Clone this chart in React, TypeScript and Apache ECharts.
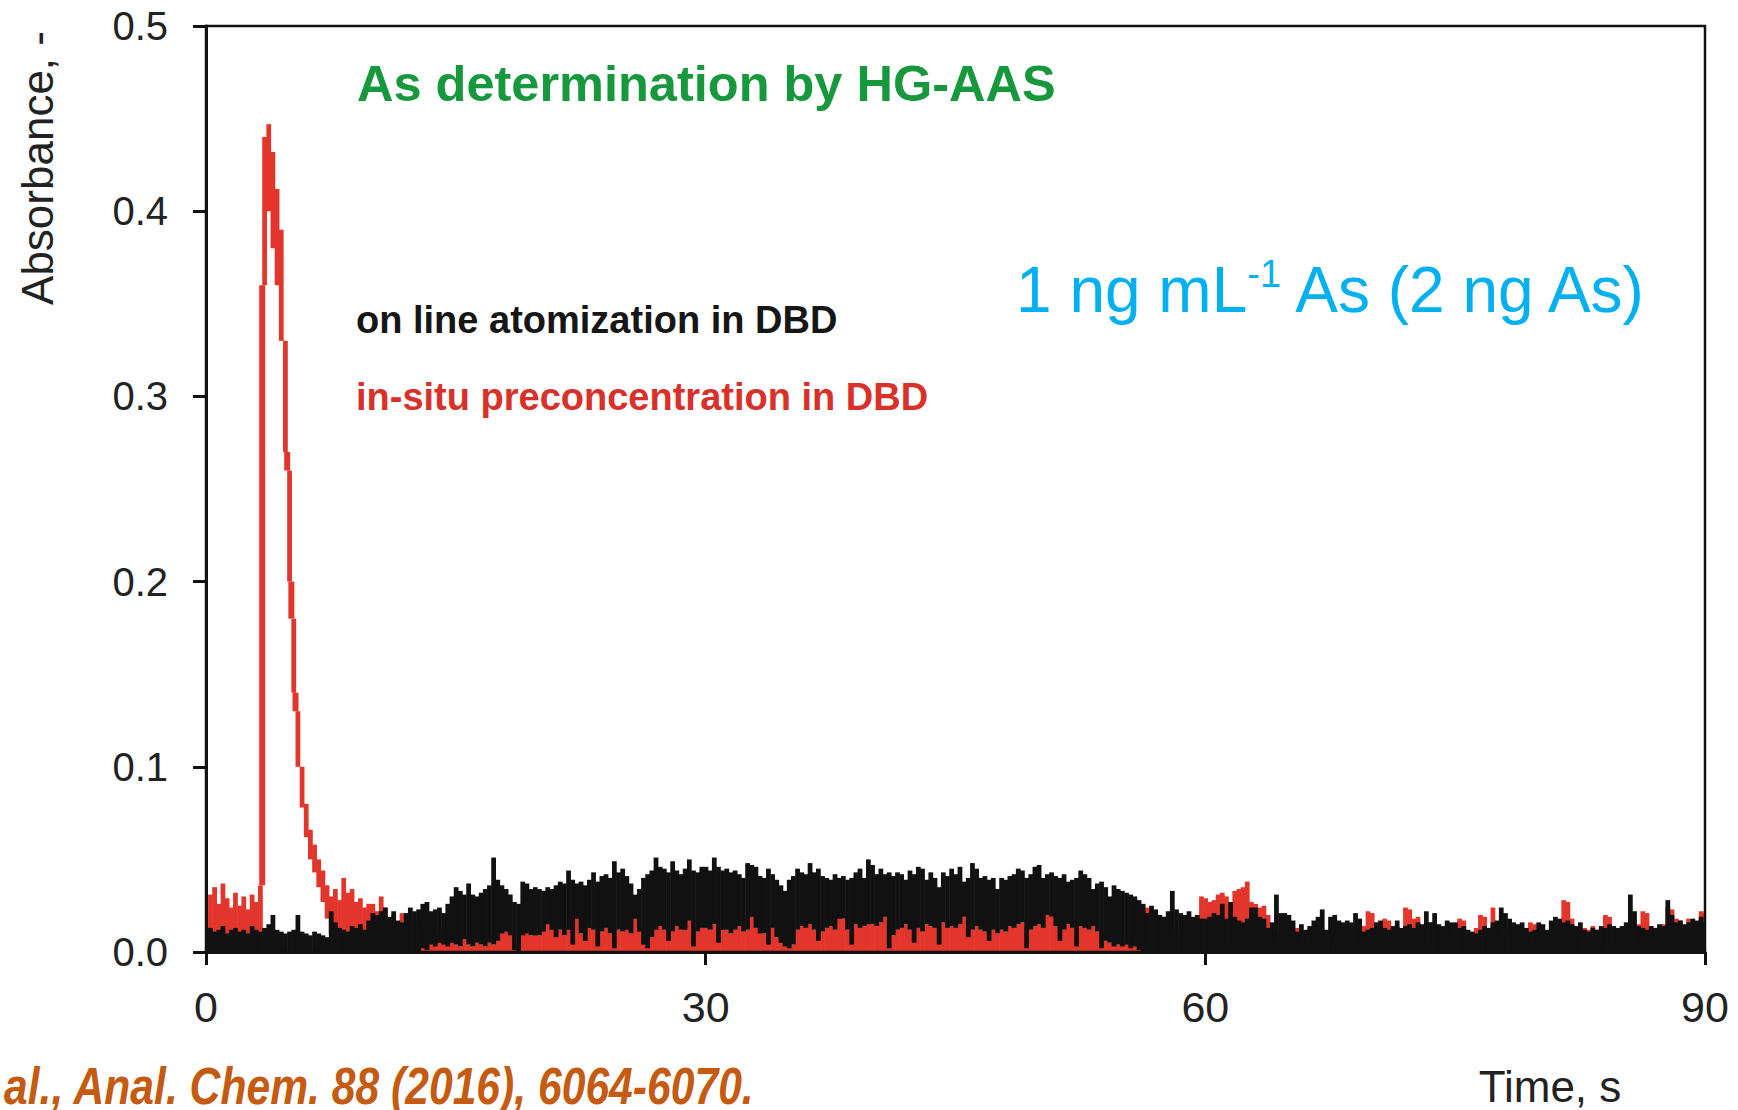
import React, { useEffect, useRef } from 'react';
import * as echarts from 'echarts';

// Sampling step of the time axis (s)
const STEP = 0.25;
const xTicks = [0, 30, 60, 90];
const yTicks = [0, 0.1, 0.2, 0.3, 0.4, 0.5];

const titleText = 'As determination by HG-AAS';
const blackLabel = 'on line atomization in DBD';
const redLabel = 'in-situ preconcentration in DBD';
const concParts = ['1 ng mL', '-1', ' As (2 ng As)'];
const yTitle = 'Absorbance, -';
const xTitle = 'Time, s';
const citation = 'al., Anal. Chem. 88 (2016), 6064-6070.';

// in-situ preconcentration (red): upper and lower edge of the noisy trace, every 0.25 s
const redHigh = [
  0.022, 0.031, 0.035, 0.026, 0.037, 0.029, 0.024, 0.032, 0.025, 0.030, 0.023, 0.031, 0.027, 0.036, 0.440, 0.447, 0.432, 0.412, 0.390, 0.330,
  0.260, 0.180, 0.130, 0.100, 0.080, 0.066, 0.058, 0.050, 0.044, 0.036, 0.030, 0.034, 0.028, 0.040, 0.032, 0.034, 0.027, 0.029, 0.024, 0.026,
  0.026, 0.022, 0.030, 0.024, 0.018, 0.020, 0.016, 0.021, 0.014, 0.018, 0.012, 0.016, 0.012, 0.010, 0.013, 0.009, 0.011, 0.008, 0.010, 0.007,
  0.004, 0.003, 0.008, 0.004, 0.003, 0.005, 0.004, 0.003, 0.005, 0.004, 0.006, 0.011, 0.012, 0.010, 0.004, 0.003, 0.010, 0.011, 0.009, 0.010,
  0.009, 0.012, 0.016, 0.013, 0.010, 0.012, 0.009, 0.013, 0.011, 0.019, 0.010, 0.008, 0.014, 0.012, 0.009, 0.011, 0.013, 0.010, 0.008, 0.012,
  0.011, 0.013, 0.010, 0.019, 0.012, 0.009, 0.005, 0.008, 0.013, 0.014, 0.012, 0.013, 0.011, 0.014, 0.012, 0.013, 0.018, 0.012, 0.011, 0.013,
  0.013, 0.012, 0.015, 0.011, 0.013, 0.012, 0.010, 0.012, 0.014, 0.011, 0.012, 0.020, 0.013, 0.012, 0.010, 0.011, 0.013, 0.008, 0.006, 0.010,
  0.005, 0.004, 0.012, 0.014, 0.013, 0.015, 0.012, 0.013, 0.011, 0.013, 0.014, 0.012, 0.019, 0.018, 0.012, 0.011, 0.015, 0.013, 0.014, 0.016,
  0.015, 0.014, 0.016, 0.019, 0.013, 0.009, 0.012, 0.013, 0.015, 0.012, 0.014, 0.013, 0.011, 0.015, 0.014, 0.013, 0.012, 0.016, 0.013, 0.014,
  0.013, 0.015, 0.019, 0.013, 0.012, 0.014, 0.012, 0.011, 0.013, 0.012, 0.010, 0.012, 0.011, 0.014, 0.013, 0.015, 0.016, 0.013, 0.012, 0.014,
  0.015, 0.013, 0.020, 0.019, 0.014, 0.013, 0.012, 0.015, 0.013, 0.012, 0.014, 0.013, 0.012, 0.014, 0.011, 0.007, 0.006, 0.005, 0.006, 0.004,
  0.005, 0.006, 0.004, 0.005, 0.006, 0.015, 0.024, 0.022, 0.012, 0.010, 0.019, 0.018, 0.013, 0.012, 0.011, 0.010, 0.015, 0.013, 0.020, 0.030,
  0.029, 0.027, 0.028, 0.031, 0.032, 0.030, 0.027, 0.033, 0.034, 0.035, 0.038, 0.027, 0.026, 0.024, 0.025, 0.020, 0.012, 0.010, 0.011, 0.009,
  0.011, 0.012, 0.013, 0.011, 0.010, 0.012, 0.011, 0.010, 0.012, 0.011, 0.013, 0.010, 0.011, 0.009, 0.012, 0.011, 0.013, 0.012, 0.014, 0.022,
  0.021, 0.014, 0.013, 0.018, 0.017, 0.013, 0.014, 0.012, 0.024, 0.023, 0.018, 0.019, 0.013, 0.014, 0.016, 0.012, 0.013, 0.011, 0.012, 0.014,
  0.012, 0.018, 0.017, 0.011, 0.010, 0.013, 0.020, 0.019, 0.013, 0.024, 0.013, 0.014, 0.011, 0.012, 0.010, 0.012, 0.013, 0.011, 0.016, 0.015,
  0.012, 0.010, 0.011, 0.013, 0.012, 0.014, 0.028, 0.027, 0.018, 0.012, 0.011, 0.013, 0.012, 0.014, 0.012, 0.013, 0.020, 0.019, 0.012, 0.011,
  0.013, 0.012, 0.017, 0.013, 0.015, 0.022, 0.021, 0.014, 0.013, 0.012, 0.015, 0.024, 0.023, 0.018, 0.017, 0.014, 0.018, 0.015, 0.013, 0.022,
  0.021,
];
const redLow = [
  0, 0, 0, 0, 0, 0, 0, 0, 0, 0, 0, 0, 0, 0, 0.360, 0.400, 0.380, 0.360, 0.330, 0.270,
  0.200, 0.140, 0.100, 0.078, 0.062, 0.050, 0.043, 0.035, 0.027, 0.018, 0.010, 0.004, 0, 0, 0, 0, 0, 0, 0, 0,
  0, 0, 0, 0, 0, 0, 0, 0, 0, 0, 0, 0, 0, 0, 0, 0, 0, 0, 0, 0,
  0, 0, 0, 0, 0, 0, 0, 0, 0, 0, 0, 0, 0, 0, 0, 0, 0, 0, 0, 0,
  0, 0, 0, 0, 0, 0, 0, 0, 0, 0, 0, 0, 0, 0, 0, 0, 0, 0, 0, 0,
  0, 0, 0, 0, 0, 0, 0, 0, 0, 0, 0, 0, 0, 0, 0, 0, 0, 0, 0, 0,
  0, 0, 0, 0, 0, 0, 0, 0, 0, 0, 0, 0, 0, 0, 0, 0, 0, 0, 0, 0,
  0, 0, 0, 0, 0, 0, 0, 0, 0, 0, 0, 0, 0, 0, 0, 0, 0, 0, 0, 0,
  0, 0, 0, 0, 0, 0, 0, 0, 0, 0, 0, 0, 0, 0, 0, 0, 0, 0, 0, 0,
  0, 0, 0, 0, 0, 0, 0, 0, 0, 0, 0, 0, 0, 0, 0, 0, 0, 0, 0, 0,
  0, 0, 0, 0, 0, 0, 0, 0, 0, 0, 0, 0, 0, 0, 0, 0, 0, 0, 0, 0,
  0, 0, 0, 0, 0, 0, 0, 0, 0, 0, 0, 0, 0, 0, 0, 0, 0, 0, 0, 0,
  0, 0, 0, 0, 0, 0, 0, 0, 0, 0, 0, 0, 0, 0, 0, 0, 0, 0, 0, 0,
  0, 0, 0, 0, 0, 0, 0, 0, 0, 0, 0, 0, 0, 0, 0, 0, 0, 0, 0, 0,
  0, 0, 0, 0, 0, 0, 0, 0, 0, 0, 0, 0, 0, 0, 0, 0, 0, 0, 0, 0,
  0, 0, 0, 0, 0, 0, 0, 0, 0, 0, 0, 0, 0, 0, 0, 0, 0, 0, 0, 0,
  0, 0, 0, 0, 0, 0, 0, 0, 0, 0, 0, 0, 0, 0, 0, 0, 0, 0, 0, 0,
  0, 0, 0, 0, 0, 0, 0, 0, 0, 0, 0, 0, 0, 0, 0, 0, 0, 0, 0, 0,
  0,
];

// on line atomization (black): upper and lower edge of the noisy trace, every 0.25 s
const blackHigh = [
  0.010, 0.013, 0.011, 0.012, 0.014, 0.010, 0.012, 0.013, 0.011, 0.012, 0.010, 0.014, 0.012, 0.011, 0.013, 0.015, 0.020, 0.012, 0.011, 0.010,
  0.011, 0.012, 0.020, 0.011, 0.010, 0.009, 0.011, 0.010, 0.009, 0.008, 0.022, 0.016, 0.013, 0.012, 0.011, 0.014, 0.013, 0.015, 0.012, 0.017,
  0.021, 0.020, 0.022, 0.024, 0.019, 0.022, 0.017, 0.016, 0.021, 0.024, 0.022, 0.023, 0.026, 0.027, 0.022, 0.023, 0.024, 0.021, 0.026, 0.030,
  0.035, 0.033, 0.031, 0.037, 0.031, 0.030, 0.032, 0.034, 0.036, 0.051, 0.039, 0.036, 0.034, 0.031, 0.027, 0.026, 0.038, 0.037, 0.034, 0.035,
  0.034, 0.033, 0.035, 0.034, 0.036, 0.038, 0.037, 0.044, 0.039, 0.037, 0.038, 0.036, 0.039, 0.043, 0.038, 0.041, 0.042, 0.040, 0.049, 0.043,
  0.045, 0.041, 0.037, 0.031, 0.034, 0.040, 0.042, 0.044, 0.051, 0.046, 0.045, 0.043, 0.049, 0.044, 0.042, 0.045, 0.050, 0.044, 0.043, 0.046,
  0.046, 0.044, 0.051, 0.046, 0.044, 0.045, 0.043, 0.044, 0.042, 0.040, 0.048, 0.047, 0.046, 0.041, 0.040, 0.045, 0.042, 0.039, 0.036, 0.033,
  0.039, 0.041, 0.045, 0.043, 0.042, 0.048, 0.043, 0.045, 0.041, 0.040, 0.039, 0.042, 0.040, 0.041, 0.039, 0.040, 0.043, 0.045, 0.040, 0.050,
  0.047, 0.042, 0.045, 0.042, 0.043, 0.041, 0.043, 0.042, 0.039, 0.044, 0.042, 0.046, 0.045, 0.039, 0.043, 0.040, 0.035, 0.043, 0.041, 0.045,
  0.042, 0.046, 0.038, 0.040, 0.048, 0.045, 0.040, 0.041, 0.039, 0.040, 0.034, 0.040, 0.039, 0.041, 0.042, 0.045, 0.044, 0.040, 0.042, 0.046,
  0.047, 0.040, 0.042, 0.043, 0.041, 0.040, 0.042, 0.038, 0.039, 0.040, 0.044, 0.042, 0.040, 0.034, 0.037, 0.038, 0.035, 0.030, 0.036, 0.034,
  0.033, 0.032, 0.031, 0.030, 0.028, 0.026, 0.021, 0.025, 0.023, 0.020, 0.019, 0.022, 0.033, 0.023, 0.021, 0.020, 0.022, 0.019, 0.020, 0.018,
  0.018, 0.019, 0.021, 0.020, 0.026, 0.018, 0.027, 0.019, 0.017, 0.016, 0.018, 0.024, 0.024, 0.019, 0.018, 0.013, 0.016, 0.031, 0.021, 0.021,
  0.020, 0.017, 0.011, 0.015, 0.012, 0.014, 0.017, 0.019, 0.023, 0.012, 0.019, 0.020, 0.017, 0.016, 0.017, 0.016, 0.021, 0.018, 0.011, 0.012,
  0.013, 0.016, 0.017, 0.013, 0.012, 0.014, 0.017, 0.013, 0.014, 0.015, 0.013, 0.016, 0.015, 0.022, 0.016, 0.021, 0.015, 0.014, 0.017, 0.016,
  0.016, 0.013, 0.014, 0.012, 0.011, 0.010, 0.012, 0.014, 0.013, 0.016, 0.017, 0.024, 0.021, 0.018, 0.016, 0.015, 0.016, 0.013, 0.011, 0.012,
  0.016, 0.015, 0.012, 0.017, 0.019, 0.018, 0.016, 0.017, 0.015, 0.014, 0.016, 0.012, 0.011, 0.013, 0.012, 0.014, 0.013, 0.015, 0.014, 0.013,
  0.014, 0.016, 0.031, 0.022, 0.014, 0.013, 0.012, 0.014, 0.013, 0.015, 0.014, 0.028, 0.020, 0.016, 0.017, 0.015, 0.016, 0.018, 0.017, 0.019,
  0.016,
];
const blackLow = [
  0, 0, 0, 0, 0, 0, 0, 0, 0, 0, 0, 0, 0, 0, 0, 0, 0, 0, 0, 0,
  0, 0, 0, 0, 0, 0, 0, 0, 0, 0, 0, 0, 0, 0, 0, 0, 0, 0, 0, 0,
  0, 0, 0, 0, 0, 0, 0, 0, 0, 0, 0, 0, 0.002, 0.001, 0.004, 0.003, 0.005, 0.004, 0.003, 0.005,
  0.004, 0.003, 0.007, 0.004, 0.003, 0.005, 0.004, 0.003, 0.005, 0.004, 0.006, 0.010, 0.011, 0.009, 0.001, 0.000, 0.009, 0.010, 0.009, 0.009,
  0.009, 0.011, 0.015, 0.012, 0.008, 0.012, 0.009, 0.012, 0.004, 0.018, 0.010, 0.006, 0.013, 0.012, 0.003, 0.011, 0.013, 0.010, 0.002, 0.012,
  0.011, 0.012, 0.010, 0.018, 0.011, 0.004, 0.002, 0.008, 0.012, 0.014, 0.012, 0.006, 0.011, 0.014, 0.012, 0.012, 0.017, 0.003, 0.011, 0.013,
  0.013, 0.012, 0.015, 0.005, 0.012, 0.012, 0.010, 0.012, 0.014, 0.011, 0.012, 0.019, 0.013, 0.010, 0.010, 0.004, 0.013, 0.008, 0.005, 0.003,
  0.002, 0.004, 0.012, 0.014, 0.013, 0.015, 0.012, 0.006, 0.011, 0.013, 0.014, 0.012, 0.018, 0.018, 0.012, 0.004, 0.015, 0.013, 0.014, 0.015,
  0.015, 0.014, 0.016, 0.019, 0.002, 0.009, 0.012, 0.013, 0.015, 0.012, 0.005, 0.013, 0.011, 0.015, 0.014, 0.013, 0.004, 0.016, 0.013, 0.014,
  0.013, 0.015, 0.019, 0.008, 0.012, 0.014, 0.012, 0.011, 0.006, 0.012, 0.010, 0.012, 0.011, 0.014, 0.013, 0.015, 0.016, 0.002, 0.012, 0.014,
  0.015, 0.013, 0.020, 0.019, 0.014, 0.006, 0.012, 0.015, 0.013, 0.003, 0.014, 0.013, 0.012, 0.014, 0.011, 0.002, 0.006, 0.005, 0.003, 0.004,
  0.003, 0.004, 0.002, 0.003, 0.001, 0, 0, 0, 0, 0, 0, 0, 0, 0, 0, 0, 0, 0, 0, 0,
  0, 0, 0, 0, 0, 0, 0, 0, 0, 0, 0, 0, 0, 0, 0, 0, 0, 0, 0, 0,
  0, 0, 0, 0, 0, 0, 0, 0, 0, 0, 0, 0, 0, 0, 0, 0, 0, 0, 0, 0,
  0, 0, 0, 0, 0, 0, 0, 0, 0, 0, 0, 0, 0, 0, 0, 0, 0, 0, 0, 0,
  0, 0, 0, 0, 0, 0, 0, 0, 0, 0, 0, 0, 0, 0, 0, 0, 0, 0, 0, 0,
  0, 0, 0, 0, 0, 0, 0, 0, 0, 0, 0, 0, 0, 0, 0, 0, 0, 0, 0, 0,
  0, 0, 0, 0, 0, 0, 0, 0, 0, 0, 0, 0, 0, 0, 0, 0, 0, 0, 0, 0,
  0,
];

const FONT = '"Liberation Sans", Arial, Helvetica, sans-serif';
const RED = '#e2362c';
const BLACK = '#111111';

// table [time, low, high, nextLow, nextHigh] built from the arrays above
function buildTable(lo: number[], hi: number[]) {
  return hi.map((h, i) => {
    const j = Math.min(i + 1, hi.length - 1);
    return [+(i * STEP).toFixed(2), lo[i], h, lo[j], hi[j]];
  });
}

function makeRenderer(color: string, connW: number) {
  return (params: any, api: any) => {
    const cs = params.coordSys;
    const t = api.value(0);
    const lo = api.value(1);
    const hi = api.value(2);
    const loN = api.value(3);
    const hiN = api.value(4);
    const pTop = api.coord([t - STEP / 2, hi]);
    const pBot = api.coord([t + STEP / 2, lo]);
    const x1 = Math.max(pTop[0], cs.x);
    const x2 = Math.min(pBot[0] + 0.6, cs.x + cs.width);
    const children: any[] = [];
    if (x2 > x1) {
      children.push({
        type: 'rect',
        shape: { x: x1, y: pTop[1], width: x2 - x1, height: Math.max(pBot[1] - pTop[1], 1) },
        style: { fill: color },
      });
    }
    // vertical connector to the next sample when the two blocks do not overlap
    let a: number | null = null;
    let b: number | null = null;
    if (lo > hiN) {
      a = hiN;
      b = lo;
    } else if (hi < loN) {
      a = hi;
      b = loN;
    }
    if (a !== null && b !== null) {
      const pa = api.coord([t + STEP / 2, a]);
      const pb = api.coord([t + STEP / 2, b]);
      children.push({
        type: 'rect',
        shape: { x: pa[0] - connW / 2, y: pb[1], width: connW, height: pa[1] - pb[1] },
        style: { fill: color },
      });
    }
    return { type: 'group', children };
  };
}

export default function App() {
  const ref = useRef<HTMLDivElement>(null);

  useEffect(() => {
    if (!ref.current) return;
    const chart = echarts.init(ref.current, null, { renderer: 'svg' });

    const textStyle = (extra: any) => ({
      fontFamily: FONT,
      align: 'left',
      verticalAlign: 'middle',
      textAlign: 'left',
      textVerticalAlign: 'middle',
      ...extra,
    });

    chart.setOption({
      animation: false,
      backgroundColor: '#ffffff',
      grid: {
        left: 206,
        right: 33,
        top: 26,
        bottom: 158,
        show: true,
        borderColor: BLACK,
        borderWidth: 2.5,
        backgroundColor: 'transparent',
        z: 10,
      },
      xAxis: {
        type: 'value',
        min: xTicks[0],
        max: xTicks[xTicks.length - 1],
        interval: xTicks[1] - xTicks[0],
        z: 10,
        axisLine: { show: true, onZero: false, lineStyle: { color: BLACK, width: 3 } },
        axisTick: { show: true, inside: false, length: 13, lineStyle: { color: BLACK, width: 3 } },
        axisLabel: { fontSize: 43, color: '#222', margin: 33, fontFamily: FONT },
        splitLine: { show: false },
      },
      yAxis: {
        type: 'value',
        min: yTicks[0],
        max: yTicks[yTicks.length - 1],
        interval: 0.1,
        z: 10,
        axisLine: { show: true, lineStyle: { color: BLACK, width: 3 } },
        axisTick: { show: true, inside: false, length: 13, lineStyle: { color: BLACK, width: 3 } },
        axisLabel: {
          fontSize: 40,
          color: '#222',
          margin: 38,
          fontFamily: FONT,
          formatter: (v: number) => v.toFixed(1),
        },
        splitLine: { show: false },
      },
      series: [
        {
          type: 'custom',
          name: redLabel,
          clip: true,
          silent: true,
          z: 2,
          encode: { x: 0, y: [1, 2] },
          data: buildTable(redLow, redHigh),
          renderItem: makeRenderer(RED, 6),
        },
        {
          type: 'custom',
          name: blackLabel,
          clip: true,
          silent: true,
          z: 3,
          encode: { x: 0, y: [1, 2] },
          data: buildTable(blackLow, blackHigh),
          renderItem: makeRenderer(BLACK, 2.5),
        },
      ],
      graphic: [
        {
          type: 'text',
          x: 357,
          y: 83,
          z: 20,
          style: textStyle({ text: titleText, fill: '#17983d', fontSize: 50.5, fontWeight: 'bold' }),
        },
        {
          type: 'text',
          x: 356,
          y: 320,
          z: 20,
          style: textStyle({ text: blackLabel, fill: '#161616', fontSize: 38, fontWeight: 'bold' }),
        },
        {
          type: 'text',
          x: 356,
          y: 397,
          z: 20,
          style: textStyle({ text: redLabel, fill: '#d9302a', fontSize: 38, fontWeight: 'bold' }),
        },
        {
          type: 'text',
          x: 1016,
          y: 290,
          z: 20,
          style: {
            text: `{a|${concParts[0]}}{b|${concParts[1]}}{a|${concParts[2]}}`,
            align: 'left',
            verticalAlign: 'middle',
            textAlign: 'left',
            textVerticalAlign: 'middle',
            rich: {
              a: { fontSize: 64, fontFamily: FONT, fill: '#00b0f0', lineHeight: 70, verticalAlign: 'middle' },
              b: { fontSize: 38, fontFamily: FONT, fill: '#00b0f0', lineHeight: 40, verticalAlign: 'top' },
            },
          },
        },
        {
          type: 'text',
          x: 37,
          y: 168,
          rotation: Math.PI / 2,
          z: 20,
          style: textStyle({ text: yTitle, fill: '#222', fontSize: 44, align: 'center', textAlign: 'center' }),
        },
        {
          type: 'text',
          x: 1550,
          y: 1086,
          z: 20,
          style: textStyle({ text: xTitle, fill: '#222', fontSize: 44, align: 'center', textAlign: 'center' }),
        },
        {
          type: 'text',
          x: 4,
          y: 1086,
          scaleX: 0.82,
          z: 20,
          style: textStyle({
            text: citation,
            fill: '#c55a11',
            fontSize: 52,
            fontWeight: 'bold',
            fontStyle: 'italic',
          }),
        },
      ],
    });

    return () => {
      chart.dispose();
    };
  }, []);

  return (
    <div
      ref={ref}
      style={{ position: 'fixed', left: 0, top: 0, width: 1738, height: 1110, background: '#ffffff' }}
    />
  );
}
